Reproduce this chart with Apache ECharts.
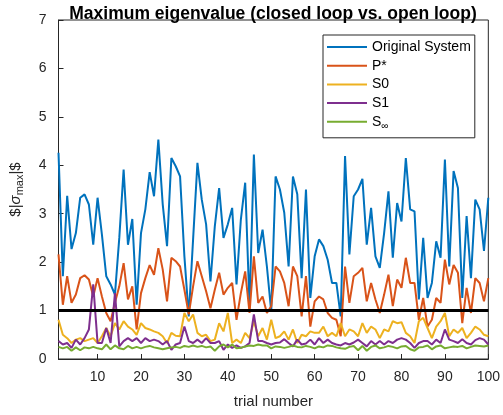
<!DOCTYPE html>
<html>
<head>
<meta charset="utf-8">
<script src="https://cdn.jsdelivr.net/npm/echarts@6/dist/echarts.min.js"></script>
<style>
  html, body { margin: 0; padding: 0; background: #fff; }
  #chart { width: 503px; height: 415px; }
</style>
</head>
<body>
<div id="chart"></div>
<script>
// trial numbers 1..100
var trials = [];
for (var i = 1; i <= 100; i++) trials.push(i);

var xTicks = [10, 20, 30, 40, 50, 60, 70, 80, 90, 100];

var original = [4.26, 1.71, 3.37, 2.27, 2.6, 3.33, 3.4, 3.19, 2.36, 3.33,
  2.57, 1.71, 1.54, 1.33, 2.5, 3.91, 2.36, 2.89, 1.12, 2.6,
  3.09, 3.86, 3.36, 4.53, 3.2, 2.33, 4.15, 3.98, 3.77, 2.12,
  0.88, 2.47, 4.05, 3.29, 2.78, 1.6, 2.74, 3.53, 2.5, 2.78,
  3.12, 1.54, 2.88, 3.64, 1.09, 4.22, 2.19, 2.67, 1.91, 0.98,
  3.77, 3.5, 3.02, 1.91, 3.77, 3.4, 1.67, 3.5, 1.26, 2.12,
  2.47, 2.33, 2.05, 1.57, 1.57, 0.88, 4.19, 2.16, 3.36, 3.5,
  3.72, 2.36, 3.12, 2.12, 1.88, 2.6, 3.46, 2.09, 3.22, 2.84,
  4.15, 3.09, 3.05, 1.23, 2.5, 1.26, 1.57, 2.43, 2.09, 4.12,
  1.91, 3.88, 3.53, 1.26, 2.95, 1.67, 3.29, 3.09, 2.23, 3.33];

var pStar = [2.16, 1.12, 1.71, 1.16, 1.33, 1.67, 1.73, 1.64, 1.29, 1.67,
  1.29, 0.95, 0.78, 1.16, 1.5, 1.98, 1.23, 1.5, 0.61, 1.36,
  1.67, 1.94, 1.74, 2.29, 1.85, 1.19, 2.09, 2.02, 1.91, 1.43,
  0.92, 1.5, 2.02, 1.71, 1.4, 1.05, 1.43, 1.78, 1.33, 1.47,
  1.57, 0.81, 1.36, 1.81, 0.95, 2.12, 1.16, 1.29, 0.95, 1.09,
  1.91, 1.81, 1.57, 1.09, 1.91, 1.71, 0.88, 1.71, 0.67, 1.19,
  1.29, 1.23, 0.95, 0.85, 0.81, 0.47, 1.91, 1.16, 1.71, 1.78,
  1.88, 1.19, 1.57, 1.23, 0.95, 1.33, 1.74, 1.09, 1.64, 1.47,
  2.09, 1.57, 1.57, 0.81, 1.26, 0.67, 0.81, 1.26, 1.16, 2.05,
  1.54, 1.94, 1.78, 0.74, 1.47, 0.95, 1.67, 1.57, 1.19, 1.67];

var s0 = [0.81, 0.5, 0.43, 0.33, 0.4, 0.43, 0.37, 0.4, 0.43, 0.33,
  0.47, 0.64, 0.47, 0.74, 0.61, 0.78, 0.67, 0.61, 0.5, 0.74,
  0.64, 0.61, 0.57, 0.54, 0.47, 0.33, 0.54, 0.48, 0.47, 0.95,
  0.78, 0.92, 0.54, 0.47, 0.5, 0.37, 0.4, 0.74, 0.57, 0.95,
  0.33, 0.4, 0.33, 0.54, 0.43, 0.78, 0.47, 0.64, 0.4, 0.81,
  0.43, 0.47, 0.57, 0.4, 0.61, 0.33, 0.5, 0.47, 0.57, 0.54,
  0.54, 0.67, 0.47, 0.54, 0.47, 0.74, 0.47, 0.61, 0.57, 0.47,
  0.74, 0.54, 0.67, 0.61, 0.43, 0.61, 0.57, 0.78, 0.74, 0.76,
  0.54, 0.47, 0.33, 0.78, 0.85, 0.64, 0.43, 0.67, 0.78, 0.95,
  0.47, 0.61, 0.54, 0.64, 0.43, 0.54, 0.67, 0.61, 0.5, 0.47];

var s1 = [0.37, 0.3, 0.33, 0.23, 0.4, 0.3, 0.43, 0.61, 1.54, 0.33,
  0.33, 0.64, 0.33, 1.36, 0.26, 0.37, 0.43, 0.37, 0.43, 0.33,
  0.43, 0.37, 0.4, 0.37, 0.3, 0.37, 0.19, 0.3, 0.33, 0.67,
  0.37, 0.33, 0.4, 0.33, 0.43, 0.33, 0.33, 0.37, 0.19, 0.3,
  0.23, 0.28, 0.23, 0.26, 0.33, 0.92, 0.37, 0.37, 0.33, 0.3,
  0.33, 0.34, 0.41, 0.33, 0.26, 0.4, 0.3, 0.32, 0.4, 0.3,
  0.43, 0.33, 0.4, 0.33, 0.3, 0.28, 0.33, 0.3, 0.34, 0.4,
  0.33, 0.26, 0.37, 0.3, 0.37, 0.3, 0.37, 0.33, 0.4, 0.43,
  0.4, 0.33, 0.23, 0.33, 0.37, 0.37, 0.3, 0.4, 0.33, 0.61,
  0.4, 0.37, 0.33, 0.41, 0.33, 0.3, 0.39, 0.43, 0.4, 0.3];

var sInf = [0.25, 0.22, 0.25, 0.17, 0.24, 0.18, 0.24, 0.22, 0.25, 0.22,
  0.2, 0.3, 0.2, 0.28, 0.22, 0.2, 0.27, 0.22, 0.25, 0.22,
  0.25, 0.27, 0.24, 0.22, 0.2, 0.22, 0.24, 0.25, 0.23, 0.27,
  0.25, 0.28, 0.25, 0.27, 0.24, 0.26, 0.17, 0.26, 0.3, 0.24,
  0.3, 0.22, 0.23, 0.26, 0.28, 0.27, 0.3, 0.28, 0.28, 0.22,
  0.26, 0.25, 0.23, 0.25, 0.28, 0.25, 0.24, 0.27, 0.25, 0.22,
  0.26, 0.24, 0.28, 0.27, 0.24, 0.22, 0.21, 0.25, 0.27, 0.18,
  0.27, 0.17, 0.25, 0.28, 0.22, 0.24, 0.27, 0.25, 0.22, 0.26,
  0.27, 0.2, 0.17, 0.24, 0.25, 0.28, 0.2, 0.26, 0.28, 0.22,
  0.24, 0.26, 0.25, 0.27, 0.22, 0.25, 0.28, 0.27, 0.26, 0.28];

var threshold = [[1, 1], [100, 1]];

var seriesNames = ['Original System', 'P*', 'S0', 'S1', 'S\u221e'];
var seriesColors = ['#0072BD', '#D95319', '#EDB120', '#7E2F8E', '#77AC30'];
var seriesData = [original, pStar, s0, s1, sInf];

var axisColor = '#262626';
var fontFamily = 'Liberation Sans, Arial, Helvetica, sans-serif';

function pair(arr) {
  return arr.map(function (v, i) { return [trials[i], v] })
}

var series = seriesData.map(function (arr, k) {
  return {
    name: seriesNames[k],
    type: 'line',
    data: pair(arr),
    symbol: 'none',
    color: seriesColors[k],
    lineStyle: { width: 2, color: seriesColors[k] },
    animation: false
  }
})
series.push({
  name: 'threshold',
  type: 'line',
  data: threshold,
  symbol: 'none',
  lineStyle: { width: 3, color: '#000' },
  animation: false
})

var chart = echarts.init(document.getElementById('chart'))
chart.setOption({
  backgroundColor: '#fff',
  textStyle: { fontFamily: fontFamily },
  title: {
    text: 'Maximum eigenvalue (closed loop vs. open loop)',
    left: 268,
    textAlign: 'center',
    top: 0,
    textStyle: { fontSize: 17.5, fontWeight: 'bold', color: '#000', fontFamily: fontFamily }
  },
  grid: {
    left: 55, right: 14, top: 20, bottom: 56,
    show: true, borderColor: axisColor, borderWidth: 1
  },
  legend: {
    data: seriesNames,
    orient: 'vertical',
    left: 323,
    top: 35,
    padding: [5, 4, 7, 4],
    itemWidth: 40,
    itemHeight: 14,
    itemGap: 4.7,
    icon: 'path://M0,0 L40,0 L40,2 L0,2 Z',
    backgroundColor: '#fff',
    borderColor: axisColor,
    borderWidth: 1,
    borderRadius: 0,
    formatter: function (name) {
      if (name === 'S\u221e') return 'S{sub|\u221e}'
      return name
    },
    textStyle: {
      fontSize: 14,
      color: '#000',
      fontFamily: fontFamily,
      rich: {
        sub: { fontSize: 10, verticalAlign: 'bottom', padding: [8, 0, 0, 0], fontFamily: fontFamily }
      }
    }
  },
  xAxis: {
    type: 'value',
    min: 1,
    max: 100,
    name: 'trial number',
    nameLocation: 'middle',
    nameGap: 35,
    nameTextStyle: { fontSize: 15, color: axisColor },
    axisLine: { lineStyle: { color: axisColor, width: 1 } },
    axisTick: { inside: true, length: 5, customValues: xTicks, lineStyle: { color: axisColor } },
    axisLabel: { customValues: xTicks, fontSize: 14, color: axisColor, margin: 11 },
    splitLine: { show: false }
  },
  yAxis: {
    type: 'value',
    min: 0,
    max: 7,
    interval: 1,
    name: '$|{s|\u03c3}{sub|max}|$',
    nameLocation: 'middle',
    nameGap: 33,
    nameRotate: 90,
    nameTextStyle: {
      fontSize: 15,
      color: axisColor,
      rich: {
        s: { fontSize: 15, color: axisColor, fontStyle: 'italic' },
        sub: { fontSize: 11, color: axisColor, verticalAlign: 'bottom', padding: [9, 0, 0, 0] }
      }
    },
    axisLine: { show: true, lineStyle: { color: axisColor, width: 1 } },
    axisTick: { show: true, inside: true, length: 5, lineStyle: { color: axisColor } },
    axisLabel: { fontSize: 14, color: axisColor, margin: 12 },
    splitLine: { show: false }
  },
  series: series
})
</script>
</body>
</html>
